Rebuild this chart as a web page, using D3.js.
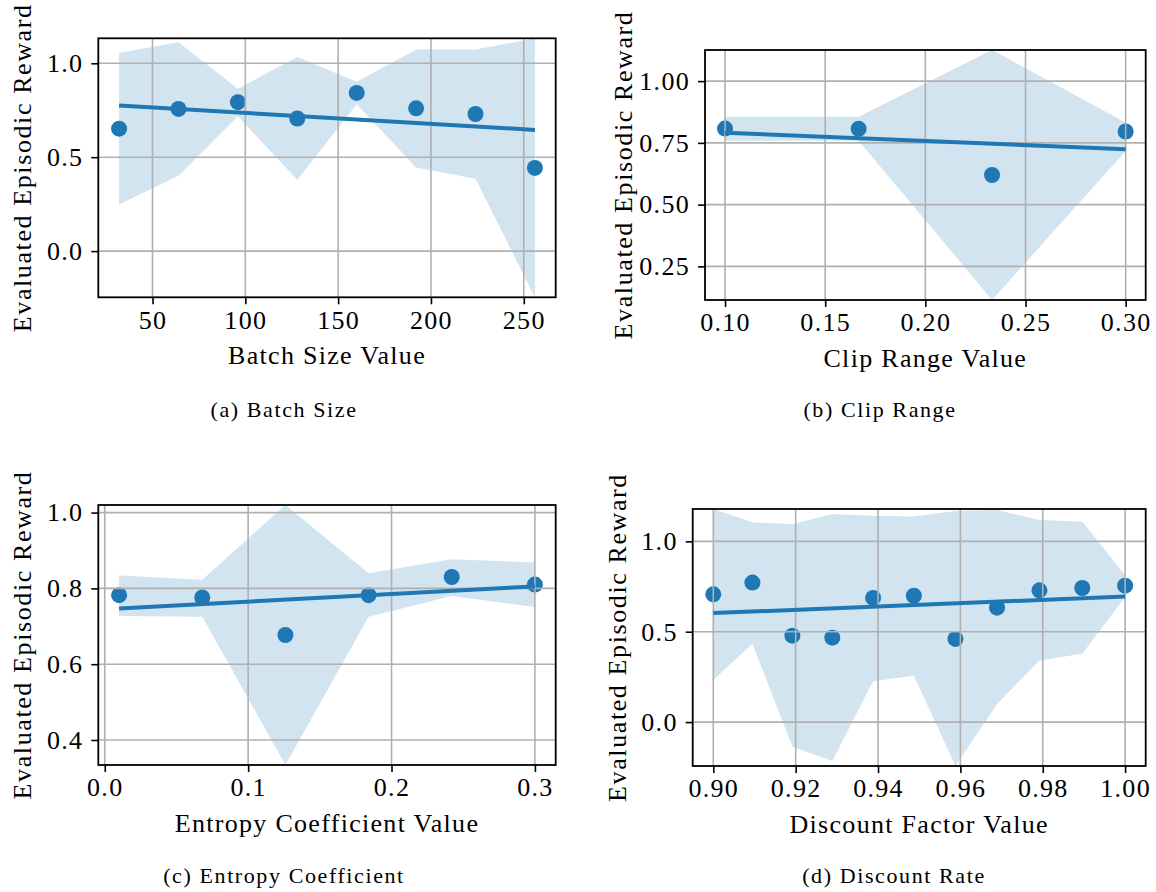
<!DOCTYPE html>
<html>
<head>
<meta charset="utf-8">
<script src="https://cdn.jsdelivr.net/npm/d3@7"></script>
<style>
  html, body { margin: 0; padding: 0; background: #fff; }
  svg { display: block; }
  text { font-family: "Liberation Serif", "Times New Roman", serif; fill: #000; }
</style>
</head>
<body>
<svg id="chart" width="1156" height="892"></svg>
<script>
// ---- Batch size sweep ----
const batchSizes  = [32, 64, 96, 128, 160, 192, 224, 256];
const batchReward = [0.652, 0.757, 0.793, 0.706, 0.842, 0.760, 0.730, 0.443];
const batchLow    = [0.248, 0.401, 0.718, 0.378, 0.782, 0.445, 0.385, -0.246];
const batchHigh   = [1.055, 1.112, 0.865, 1.034, 0.901, 1.074, 1.073, 1.133];
const batchXTicks = [50, 100, 150, 200, 250];
const batchYTicks = [0.0, 0.5, 1.0];

// ---- Clip range sweep ----
const clipValues  = [0.1, 0.1667, 0.2333, 0.3];
const clipReward  = [0.808, 0.807, 0.620, 0.796];
const clipLow     = [0.759, 0.759, 0.114, 0.717];
const clipHigh    = [0.856, 0.856, 1.126, 0.833];
const clipXTicks  = [0.10, 0.15, 0.20, 0.25, 0.30];
const clipYTicks  = [0.25, 0.50, 0.75, 1.00];

// ---- Entropy coefficient sweep ----
const entValues   = [0.01, 0.068, 0.126, 0.184, 0.242, 0.3];
const entReward   = [0.782, 0.776, 0.677, 0.782, 0.830, 0.810];
const entLow      = [0.727, 0.725, 0.334, 0.725, 0.780, 0.751];
const entHigh     = [0.834, 0.823, 1.020, 0.840, 0.877, 0.868];
const entXTicks   = [0.0, 0.1, 0.2, 0.3];
const entYTicks   = [0.4, 0.6, 0.8, 1.0];

// ---- Discount factor sweep ----
const gammaValues = [0.9, 0.9095, 0.9192, 0.9289, 0.9388, 0.9487, 0.9588, 0.9689, 0.9792, 0.9896, 1.0];
const gammaReward = [0.707, 0.772, 0.478, 0.467, 0.687, 0.699, 0.460, 0.633, 0.729, 0.742, 0.755];
const gammaLow    = [0.233, 0.433, -0.137, -0.215, 0.226, 0.257, -0.243, 0.100, 0.341, 0.378, 0.692];
const gammaHigh   = [1.179, 1.105, 1.094, 1.152, 1.142, 1.137, 1.168, 1.174, 1.118, 1.109, 0.813];
const gammaXTicks = [0.90, 0.92, 0.94, 0.96, 0.98, 1.00];
const gammaYTicks = [0.0, 0.5, 1.0];

const yTitle = "Evaluated Episodic Reward";
const BLUE = "#1f77b4";
const FONT = 26;
const SPACING = 1.3;

const panels = [
  { x: batchSizes, y: batchReward, lo: batchLow, hi: batchHigh,
    xTicks: batchXTicks, yTicks: batchYTicks, xFmt: d3.format("d"), yFmt: d3.format(".1f"),
    xLabel: "Batch Size Value", caption: "(a) Batch Size",
    box: { l: 98.3, r: 555.7, t: 38.3, b: 297.3 }, yLabelX: 31, capX: 284, capY: 417 },
  { x: clipValues, y: clipReward, lo: clipLow, hi: clipHigh,
    xTicks: clipXTicks, yTicks: clipYTicks, xFmt: d3.format(".2f"), yFmt: d3.format(".2f"),
    xLabel: "Clip Range Value", caption: "(b) Clip Range",
    box: { l: 705, r: 1145.7, t: 50, b: 300 }, yLabelX: 631.5, capX: 880, capY: 417 },
  { x: entValues, y: entReward, lo: entLow, hi: entHigh,
    xTicks: entXTicks, yTicks: entYTicks, xFmt: d3.format(".1f"), yFmt: d3.format(".1f"),
    xLabel: "Entropy Coefficient Value", caption: "(c) Entropy Coefficient",
    box: { l: 98.3, r: 555.7, t: 505, b: 765 }, yLabelX: 31, capX: 284, capY: 883 },
  { x: gammaValues, y: gammaReward, lo: gammaLow, hi: gammaHigh,
    xTicks: gammaXTicks, yTicks: gammaYTicks, xFmt: d3.format(".2f"), yFmt: d3.format(".1f"),
    xLabel: "Discount Factor Value", caption: "(d) Discount Rate",
    box: { l: 692.7, r: 1145.7, t: 509, b: 766 }, yLabelX: 626, capX: 894, capY: 883 }
];

// ordinary least-squares fit of the mean rewards
function linearFit(xs, ys) {
  const mx = d3.mean(xs), my = d3.mean(ys);
  let sxy = 0, sxx = 0;
  xs.forEach((v, i) => { sxy += (v - mx) * (ys[i] - my); sxx += (v - mx) * (v - mx); });
  const slope = sxy / sxx;
  return v => my + slope * (v - mx);
}

const svg = d3.select("#chart");

panels.forEach((p, idx) => {
  const { l, r, t, b } = p.box;
  const xExt = d3.extent(p.x);
  const pad = (xExt[1] - xExt[0]) * 0.05;
  const x = d3.scaleLinear().domain([xExt[0] - pad, xExt[1] + pad]).range([l, r]);
  const y = d3.scaleLinear().domain([d3.min(p.lo), d3.max(p.hi)]).range([b, t]);

  const g = svg.append("g");
  const clipId = "clip" + idx;
  g.append("clipPath").attr("id", clipId)
    .append("rect").attr("x", l).attr("y", t).attr("width", r - l).attr("height", b - t);

  const plot = g.append("g").attr("clip-path", `url(#${clipId})`);
  const rows = p.x.map((v, i) => ({ x: v, y: p.y[i], lo: p.lo[i], hi: p.hi[i] }));

  // spread band
  plot.append("path").datum(rows)
    .attr("d", d3.area().x(d => x(d.x)).y0(d => y(d.lo)).y1(d => y(d.hi)))
    .attr("fill", BLUE).attr("fill-opacity", 0.2);

  // mean reward markers
  plot.selectAll("circle").data(rows).join("circle")
    .attr("cx", d => x(d.x)).attr("cy", d => y(d.y)).attr("r", 8)
    .attr("fill", BLUE);

  // grid
  plot.selectAll("line.gx").data(p.xTicks).join("line").attr("class", "gx")
    .attr("x1", d => x(d)).attr("x2", d => x(d)).attr("y1", t).attr("y2", b)
    .attr("stroke", "#b0b0b0").attr("stroke-width", 1.6);
  plot.selectAll("line.gy").data(p.yTicks).join("line").attr("class", "gy")
    .attr("x1", l).attr("x2", r).attr("y1", d => y(d)).attr("y2", d => y(d))
    .attr("stroke", "#b0b0b0").attr("stroke-width", 1.6);

  // trend line
  const fit = linearFit(p.x, p.y);
  plot.append("path").datum(xExt)
    .attr("d", d3.line().x(d => x(d)).y(d => y(fit(d))))
    .attr("stroke", BLUE).attr("stroke-width", 4).attr("fill", "none");

  // axes
  const xAxis = d3.axisBottom(x).tickValues(p.xTicks).tickFormat(p.xFmt)
    .tickSize(7).tickPadding(6);
  const yAxis = d3.axisLeft(y).tickValues(p.yTicks).tickFormat(p.yFmt)
    .tickSize(7).tickPadding(8);

  const gx = g.append("g").attr("transform", `translate(0,${b})`).call(xAxis);
  const gy = g.append("g").attr("transform", `translate(${l},0)`).call(yAxis);
  [gx, gy].forEach(a => {
    a.attr("font-family", null);
    a.select(".domain").remove();
    a.selectAll(".tick line").attr("stroke", "#000").attr("stroke-width", 1.6);
    a.selectAll(".tick text").attr("font-size", FONT).attr("letter-spacing", SPACING).attr("fill", "#000");
  });

  // frame
  g.append("rect").attr("x", l).attr("y", t).attr("width", r - l).attr("height", b - t)
    .attr("fill", "none").attr("stroke", "#000").attr("stroke-width", 1.8);

  // axis titles
  g.append("text").attr("x", (l + r) / 2).attr("y", b + 67)
    .attr("text-anchor", "middle").attr("font-size", FONT).attr("letter-spacing", SPACING)
    .text(p.xLabel);
  g.append("text")
    .attr("transform", `translate(${p.yLabelX},${(t + b) / 2}) rotate(-90)`)
    .attr("text-anchor", "middle").attr("font-size", FONT).attr("letter-spacing", 1.6)
    .text(yTitle);

  // sub-caption
  g.append("text").attr("x", p.capX).attr("y", p.capY)
    .attr("text-anchor", "middle").attr("font-size", 22).attr("letter-spacing", 1.6)
    .text(p.caption);
});
</script>
</body>
</html>
